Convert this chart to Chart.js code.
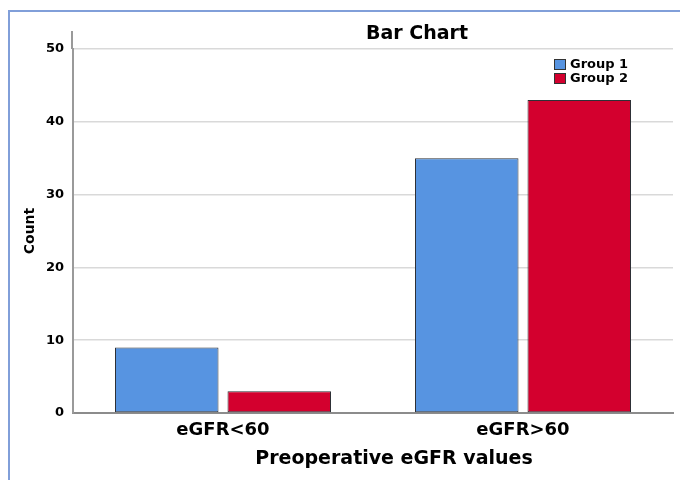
<!DOCTYPE html>
<html>
<head>
<meta charset="utf-8">
<script src="https://cdn.jsdelivr.net/npm/chart.js@4/dist/chart.umd.min.js"></script>
<style>
  body { margin: 0; background: #fff; }
  #wrap { position: relative; width: 680px; height: 480px; }
  #frame {
    position: absolute; left: 8px; top: 10px; right: 0; bottom: 0;
    border-top: 2px solid #819fd9; border-left: 2px solid #819fd9;
    pointer-events: none;
  }
  canvas { position: absolute; left: 0; top: 0; }
</style>
</head>
<body>
<div id="wrap">
  <canvas id="chart" width="680" height="480"></canvas>
  <div id="frame"></div>
</div>
<script>
const categories = ["eGFR<60", "eGFR>60"];
const group1 = [9, 35];
const group2 = [3, 43];
const seriesNames = ["Group 1", "Group 2"];
const yTicks = [0, 10, 20, 30, 40, 50];

const FONT = "'DejaVu Sans', Arial, sans-serif";

// title, x title, legend and the axis stub above 50, placed like the SPSS output
const overlay = {
  id: "overlay",
  afterDraw(chart) {
    const ctx = chart.ctx;
    const area = chart.chartArea;
    ctx.save();
    ctx.strokeStyle = "#9a9a9a";
    ctx.lineWidth = 2;
    ctx.beginPath();
    ctx.moveTo(area.left - 1, 31);
    ctx.lineTo(area.left - 1, area.top);
    ctx.stroke();

    ctx.fillStyle = "#000";
    ctx.font = "bold 19px " + FONT;
    ctx.textAlign = "center";
    ctx.textBaseline = "middle";
    ctx.fillText("Bar Chart", 417, 34);
    ctx.fillText("Preoperative eGFR values", 394, 459);

    ctx.font = "bold 13px " + FONT;
    ctx.textAlign = "left";
    chart.data.datasets.forEach((ds, i) => {
      const y = 59 + i * 14;
      ctx.fillStyle = ds.backgroundColor;
      ctx.fillRect(554, y, 12, 11);
      ctx.strokeStyle = "#333";
      ctx.lineWidth = 1;
      ctx.strokeRect(554.5, y + 0.5, 11, 10);
      ctx.fillStyle = "#000";
      ctx.fillText(ds.label, 570, y + 6);
    });
    ctx.restore();
  },
};

new Chart(document.getElementById("chart"), {
  type: "bar",
  data: {
    labels: categories,
    datasets: [
      {
        label: seriesNames[0],
        data: group1,
        backgroundColor: "#5794e1",
        borderColor: "#2e3036",
        borderWidth: 1,
        borderSkipped: false,
        categoryPercentage: 0.75,
        barPercentage: 0.92,
      },
      {
        label: seriesNames[1],
        data: group2,
        backgroundColor: "#d3002e",
        borderColor: "#2e3036",
        borderWidth: 1,
        borderSkipped: false,
        categoryPercentage: 0.75,
        barPercentage: 0.92,
      },
    ],
  },
  options: {
    responsive: false,
    animation: false,
    devicePixelRatio: 1,
    layout: { padding: { left: 0, right: 7, top: 49, bottom: 0 } },
    plugins: {
      legend: { display: false },
      title: { display: false },
      tooltip: { enabled: false },
    },
    scales: {
      x: {
        grid: { drawOnChartArea: false, drawTicks: false },
        border: { display: true, color: "#8c8c8c", width: 2 },
        ticks: {
          color: "#000",
          padding: 7,
          font: { family: FONT, size: 18, weight: "bold" },
        },
        afterFit(scale) {
          scale.height = 67;
        },
      },
      y: {
        min: 0,
        max: 50,
        afterBuildTicks(scale) {
          scale.ticks = yTicks.map((v) => ({ value: v }));
        },
        grid: { color: "#d9d9d9", lineWidth: 1.5, drawTicks: false },
        border: { display: true, color: "#9a9a9a", width: 2 },
        ticks: {
          color: "#000",
          padding: 9,
          font: { family: FONT, size: 13, weight: "bold" },
        },
        title: {
          display: true,
          text: "Count",
          color: "#000",
          font: { family: FONT, size: 14, weight: "bold" },
          padding: { top: 22, bottom: 0 },
        },
        afterFit(scale) {
          scale.width = 73;
        },
      },
    },
  },
  plugins: [overlay],
});
</script>
</body>
</html>
